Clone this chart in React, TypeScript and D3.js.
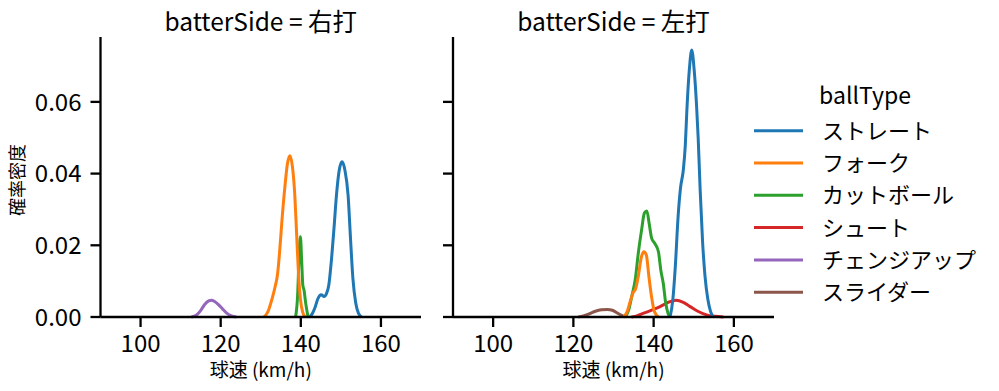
import React from "react";
import * as d3 from "d3";

type Pt = [number, number];

const ballTypes = ["ストレート", "フォーク", "カットボール", "シュート", "チェンジアップ", "スライダー"];
const colors = ["#1f77b4", "#ff7f0e", "#2ca02c", "#d62728", "#9467bd", "#8c564b"];
const panels = ["右打", "左打"];
const xTicks = [100, 120, 140, 160];
const yTicks = [0, 0.02, 0.04, 0.06];

// 右打
const rStraight: Pt[] = [[142.2,0],[142.8,0.0008],[143.5,0.0025],[144.3,0.0052],[145.1,0.0062],[145.8,0.0057],[146.4,0.0065],[147.0,0.009],[147.6,0.0154],[148.3,0.025],[148.9,0.034],[149.6,0.041],[150.3,0.0433],[151.0,0.041],[151.8,0.034],[152.4,0.022],[153.0,0.0108],[153.7,0.004],[154.4,0.001],[155.2,0]];
const rFork: Pt[] = [[130.8,0],[131.8,0.0015],[132.8,0.005],[133.6,0.0085],[134.2,0.012],[134.7,0.018],[135.3,0.027],[136.0,0.036],[136.7,0.043],[137.3,0.045],[137.9,0.042],[138.5,0.034],[139.0,0.022],[139.4,0.0125],[139.9,0.005],[140.5,0.0012],[141.1,0]];
const rCutter: Pt[] = [[138.7,0],[139.2,0.006],[139.6,0.018],[139.9,0.0224],[140.2,0.016],[140.5,0.0089],[140.8,0.0075],[141.2,0.004],[141.8,0]];
const rChangeup: Pt[] = [[112.7,0],[114.0,0.0006],[115.0,0.0018],[116.0,0.0035],[117.0,0.0045],[117.7,0.0047],[118.5,0.0043],[119.5,0.0034],[120.5,0.0022],[121.5,0.0011],[122.7,0.0003],[123.9,0]];

// 左打
const lStraight: Pt[] = [[144.1,0],[144.8,0.005],[145.4,0.014],[146.1,0.028],[146.7,0.036],[147.4,0.041],[147.9,0.048],[148.3,0.058],[148.9,0.069],[149.5,0.0745],[150.1,0.069],[150.7,0.059],[151.1,0.05],[151.6,0.0354],[152.2,0.021],[152.8,0.0115],[153.5,0.005],[154.2,0.0015],[154.9,0]];
const lFork: Pt[] = [[132.6,0],[133.4,0.0015],[134.2,0.0045],[134.9,0.0068],[135.5,0.0078],[136.2,0.0115],[136.9,0.0165],[137.6,0.0182],[138.2,0.0172],[138.8,0.0115],[139.5,0.0055],[140.2,0.0015],[141.2,0]];
const lCutter: Pt[] = [[132.9,0],[133.8,0.002],[134.6,0.006],[135.4,0.0103],[136.2,0.018],[137.0,0.0243],[137.7,0.029],[138.3,0.0296],[138.9,0.026],[139.5,0.022],[140.3,0.0205],[141.2,0.0182],[141.8,0.013],[142.4,0.0094],[143.0,0.004],[143.6,0.001],[144.1,0]];
const lShoot: Pt[] = [[134.5,0],[136.0,0.0004],[137.4,0.001],[139.5,0.0019],[141.6,0.0029],[143.5,0.004],[145.6,0.0047],[147.4,0.0041],[149.1,0.0029],[151.0,0.0016],[153.2,0.0006],[155.3,0.0002],[157.4,0]];
const lSlider: Pt[] = [[121.2,0],[122.5,0.0003],[124.0,0.0009],[125.5,0.0016],[127.0,0.002],[128.5,0.0021],[129.7,0.0019],[130.8,0.0012],[131.9,0.0005],[132.9,0]];

const panelCurves: { type: number; pts: Pt[] }[][] = [
  [
    { type: 0, pts: rStraight },
    { type: 1, pts: rFork },
    { type: 2, pts: rCutter },
    { type: 4, pts: rChangeup },
  ],
  [
    { type: 0, pts: lStraight },
    { type: 1, pts: lFork },
    { type: 2, pts: lCutter },
    { type: 3, pts: lShoot },
    { type: 5, pts: lSlider },
  ],
];

const FONT = "'Noto Sans CJK JP', 'Noto Sans', sans-serif";

export default function App() {
  const W = 999, H = 391;
  const top = 37, bottom = 317;
  const panelX: [number, number][] = [[100.5, 421], [453, 774]];
  const y = d3.scaleLinear().domain([0, 0.0781]).range([bottom, top]);

  return (
    <svg width={W} height={H} style={{ position: "absolute", left: 0, top: 0, background: "#fff" }} fontFamily={FONT}>
      {panels.map((p, pi) => {
        const x = d3.scaleLinear().domain([90, 170]).range(panelX[pi]);
        const line = d3.line<Pt>().x(d => x(d[0])).y(d => y(d[1])).curve(d3.curveMonotoneX);
        const cx = (panelX[pi][0] + panelX[pi][1]) / 2;
        return (
          <g key={p}>
            <text x={cx} y={31} textAnchor="middle" fontSize={24.5} fill="#000">{`batterSide = ${p}`}</text>
            {[...panelCurves[pi]].reverse().map((c, i) => (
              <path key={i} d={line(c.pts) || ""} fill="none" stroke={colors[c.type]} strokeWidth={3} strokeLinejoin="round" />
            ))}
            <line x1={panelX[pi][0]} x2={panelX[pi][0]} y1={top} y2={bottom} stroke="#000" strokeWidth={2.3} />
            <line x1={panelX[pi][0]} x2={panelX[pi][1]} y1={bottom} y2={bottom} stroke="#000" strokeWidth={2.3} />
            {xTicks.map(t => (
              <g key={t}>
                <line x1={x(t)} x2={x(t)} y1={bottom} y2={bottom + 10} stroke="#000" strokeWidth={2.3} />
                <text x={x(t)} y={352} textAnchor="middle" fontSize={24} fill="#000">{t}</text>
              </g>
            ))}
            {yTicks.map(t => (
              <g key={t}>
                <line x1={panelX[pi][0] - 10} x2={panelX[pi][0]} y1={y(t)} y2={y(t)} stroke="#000" strokeWidth={2.3} />
                {pi === 0 && (
                  <text x={panelX[pi][0] - 19} y={y(t)} dy="0.36em" textAnchor="end" fontSize={24} fill="#000">{t.toFixed(2)}</text>
                )}
              </g>
            ))}
            <text x={cx} y={377} textAnchor="middle" fontSize={19} fill="#000">球速 (km/h)</text>
          </g>
        );
      })}
      <text transform={`translate(24,180) rotate(-90)`} textAnchor="middle" fontSize={18} fill="#000">確率密度</text>
      <text x={865} y={104} textAnchor="middle" fontSize={23} fill="#000">ballType</text>
      {ballTypes.map((b, i) => {
        const ly = 130.7 + i * 32.3;
        return (
          <g key={b}>
            <line x1={754} x2={803} y1={ly} y2={ly} stroke={colors[i]} strokeWidth={3} />
            <text x={822} y={ly} dy="0.36em" fontSize={22} fill="#000">{b}</text>
          </g>
        );
      })}
    </svg>
  );
}
